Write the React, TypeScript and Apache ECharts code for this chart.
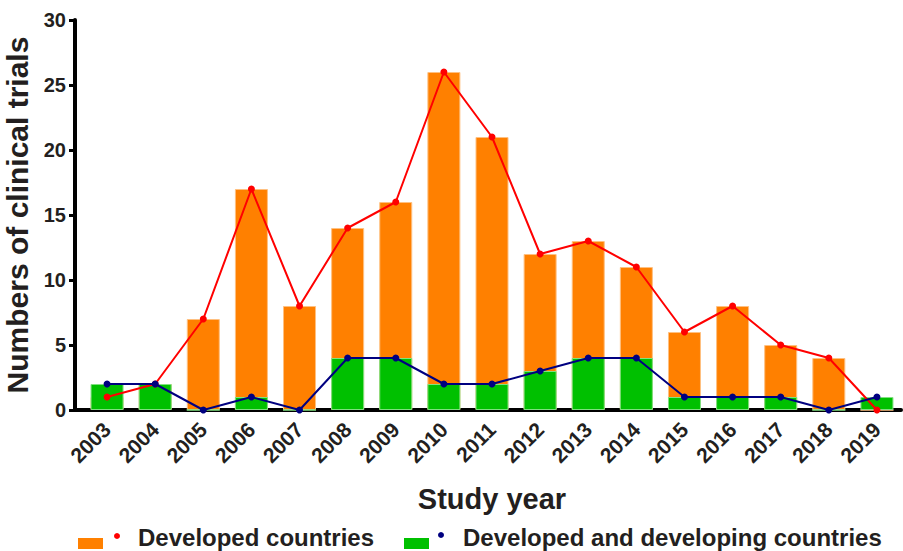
import React, { useEffect, useRef } from "react";
import * as echarts from "echarts";

const years = ["2003","2004","2005","2006","2007","2008","2009","2010","2011","2012","2013","2014","2015","2016","2017","2018","2019"];
const developed = [1, 2, 7, 17, 8, 14, 16, 26, 21, 12, 13, 11, 6, 8, 5, 4, 0];
const devAndDeveloping = [2, 2, 0, 1, 0, 4, 4, 2, 2, 3, 4, 4, 1, 1, 1, 0, 1];
const yTicks = { min: 0, max: 30, interval: 5 };

const ORANGE = "#FF8000";
const GREEN = "#00C000";
const RED = "#FF0000";
const NAVY = "#000080";
const TEXT = "#231f20";
const FONT = "'Liberation Sans', Arial, Helvetica, sans-serif";

export default function App() {
  const ref = useRef<HTMLDivElement>(null);
  useEffect(() => {
    if (!ref.current) return;
    const chart = echarts.init(ref.current, null, { renderer: "svg" });
    chart.setOption({
      animation: false,
      backgroundColor: "#ffffff",
      textStyle: { fontFamily: FONT },
      grid: { left: 83, right: 2, top: 20, bottom: 141, containLabel: false, outerBoundsMode: "none" },
      xAxis: {
        type: "category",
        data: years,
        boundaryGap: true,
        axisLine: { lineStyle: { color: "#000", width: 4 } },
        axisTick: { alignWithLabel: true, length: 6, lineStyle: { color: "#000", width: 3 } },
        axisLabel: { rotate: 45, margin: 16, color: TEXT, fontWeight: "bold", fontSize: 21, fontFamily: FONT },
        name: "Study year",
        nameLocation: "middle",
        nameGap: 74,
        nameTextStyle: { color: TEXT, fontWeight: "bold", fontSize: 29, fontFamily: FONT },
      },
      yAxis: {
        type: "value",
        min: yTicks.min,
        max: yTicks.max,
        interval: yTicks.interval,
        offset: 8,
        splitLine: { show: false },
        axisLine: { show: true, lineStyle: { color: "#000", width: 4 } },
        axisTick: { show: true, length: 6, lineStyle: { color: "#000", width: 3 } },
        axisLabel: { margin: 9, color: TEXT, fontWeight: "bold", fontSize: 20, fontFamily: FONT },
        name: "Numbers of clinical trials",
        nameLocation: "middle",
        nameGap: 38,
        nameTextStyle: { color: TEXT, fontWeight: "bold", fontSize: 30, fontFamily: FONT },
      },
      series: [
        {
          name: "Developed countries",
          type: "bar",
          data: developed,
          barWidth: 33,
          barGap: "-100%",
          itemStyle: { color: ORANGE, borderColor: "#FFC080", borderWidth: 1 },
          z: 2,
        },
        {
          name: "Developed and developing countries",
          type: "bar",
          data: devAndDeveloping,
          barWidth: 33,
          barGap: "-100%",
          itemStyle: { color: GREEN, borderColor: "#80E080", borderWidth: 1 },
          z: 3,
        },
        {
          name: "Developed countries line",
          type: "line",
          data: developed,
          symbol: "circle",
          symbolSize: 7,
          itemStyle: { color: RED },
          lineStyle: { color: RED, width: 2 },
          z: 4,
        },
        {
          name: "Developed and developing countries line",
          type: "line",
          data: devAndDeveloping,
          symbol: "circle",
          symbolSize: 7,
          itemStyle: { color: NAVY },
          lineStyle: { color: NAVY, width: 2 },
          z: 5,
        },
      ],
      graphic: [
        { type: "rect", shape: { x: 73, y: 408, width: 12, height: 4 }, style: { fill: "#000" }, z: 10 },
        { type: "rect", shape: { x: 78, y: 538, width: 25, height: 11 }, style: { fill: ORANGE } },
        { type: "circle", shape: { cx: 117, cy: 536, r: 3 }, style: { fill: RED } },
        { type: "text", x: 138, y: 537, style: { text: "Developed countries", fill: TEXT, font: `bold 24px ${FONT}`, textVerticalAlign: "middle" } },
        { type: "rect", shape: { x: 404, y: 538, width: 25, height: 11 }, style: { fill: GREEN } },
        { type: "circle", shape: { cx: 441, cy: 535, r: 3 }, style: { fill: NAVY } },
        { type: "text", x: 463, y: 537, style: { text: "Developed and developing countries", fill: TEXT, font: `bold 24px ${FONT}`, textVerticalAlign: "middle" } },
      ],
    });
    return () => chart.dispose();
  }, []);
  return <div ref={ref} style={{ width: 903, height: 551, position: "absolute", left: 0, top: 0 }} />;
}
